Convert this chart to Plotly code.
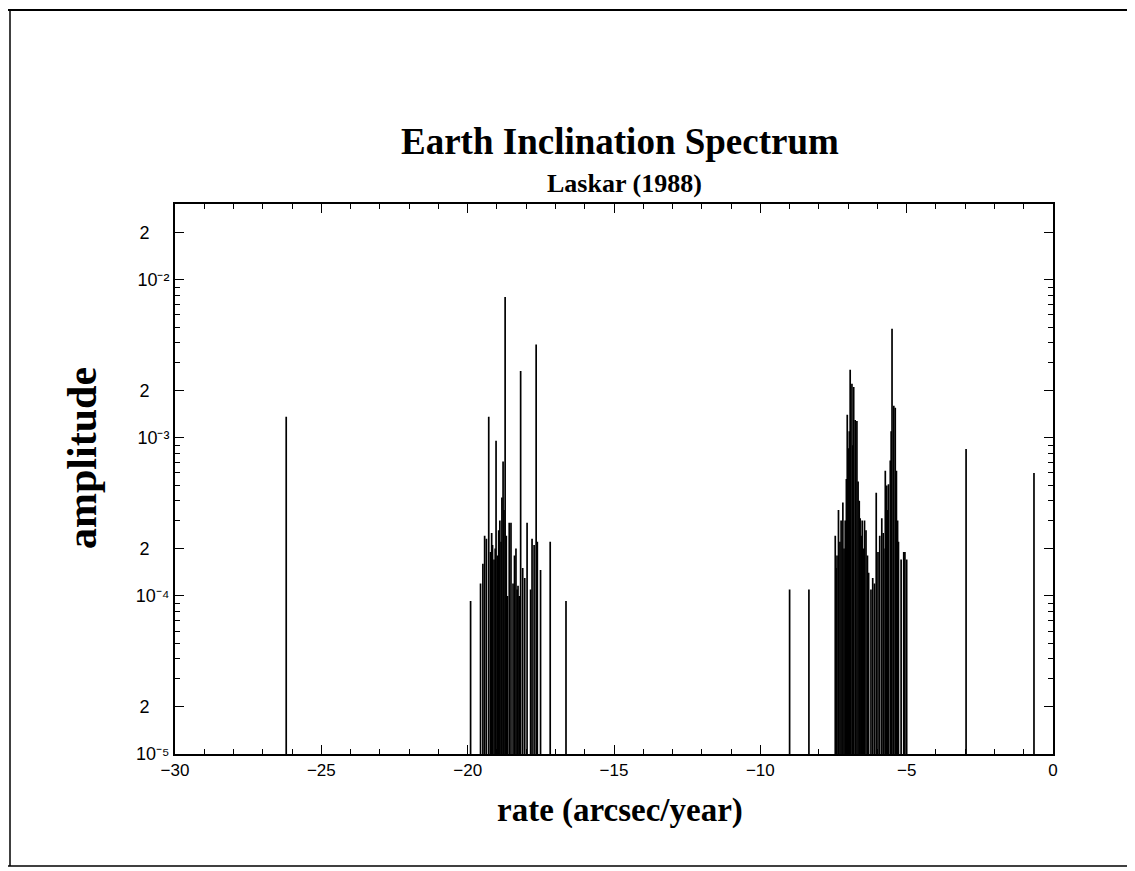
import plotly.graph_objects as go

# ---- data: spectral lines (rate in arcsec/year, amplitude) ----
rates = [
    -26.20,
    -19.90, -19.56, -19.48, -19.42, -19.36, -19.28, -19.22, -19.18, -19.15, -19.10,
    -19.06, -19.03, -18.98, -18.94, -18.90, -18.86, -18.83, -18.79, -18.76, -18.72,
    -18.68, -18.64, -18.58, -18.52, -18.45, -18.40, -18.35, -18.31, -18.28, -18.24,
    -18.19, -18.12, -18.05, -17.97, -17.85, -17.80, -17.73, -17.66, -17.62, -17.51,
    -17.18, -16.64,
    -9.00, -8.34,
    -7.44, -7.41, -7.38, -7.33, -7.28, -7.24, -7.18, -7.14, -7.10, -7.06, -7.03,
    -6.99, -6.96, -6.93, -6.87, -6.84, -6.81, -6.76, -6.70, -6.66, -6.62, -6.59,
    -6.55, -6.52, -6.48, -6.44, -6.39, -6.34, -6.30, -6.22, -6.16, -6.10, -6.04,
    -5.98, -5.92, -5.85, -5.80, -5.78, -5.73, -5.68, -5.65, -5.62, -5.56, -5.53,
    -5.50, -5.44, -5.39, -5.35, -5.31, -5.28, -5.19, -5.10, -5.06, -5.00,
    -2.97, -0.65,
]
amplitudes = [
    1.36e-3,
    9.3e-5, 1.2e-4, 1.6e-4, 2.4e-4, 2.3e-4, 1.36e-3, 1.9e-4, 2.5e-4, 2.1e-4, 1.7e-4,
    2.0e-4, 9.6e-4, 1.8e-4, 2.6e-4, 3.0e-4, 2.2e-4, 4.2e-4, 7.1e-4, 3.5e-4, 7.8e-3,
    2.4e-4, 1.0e-4, 2.9e-4, 2.9e-4, 1.2e-4, 1.8e-4, 2.0e-4, 1.1e-4, 1.16e-4, 1.0e-4,
    2.65e-3, 1.5e-4, 1.3e-4, 2.9e-4, 1.1e-4, 2.3e-4, 2.1e-4, 3.9e-3, 2.2e-4, 1.46e-4,
    2.2e-4, 9.3e-5,
    1.1e-4, 1.1e-4,
    2.4e-4, 1.5e-4, 1.8e-4, 3.5e-4, 2.2e-4, 3.0e-4, 3.9e-4, 2.0e-4, 3.0e-4, 5.5e-4, 1.4e-3,
    8.6e-4, 1.1e-3, 2.7e-3, 2.2e-3, 9.0e-4, 2.1e-3, 1.3e-3, 1.28e-3, 5.3e-4, 4.0e-4, 3.1e-4,
    2.4e-4, 3.0e-4, 2.0e-4, 3.0e-4, 2.6e-4, 1.8e-4, 1.4e-4, 1.1e-4, 1.3e-4, 1.2e-4, 4.5e-4,
    1.9e-4, 2.4e-4, 3.1e-4, 2.5e-4, 2.0e-4, 6.2e-4, 5.0e-4, 3.5e-4, 5.1e-4, 7.2e-4, 1.1e-3,
    4.9e-3, 1.6e-3, 1.55e-3, 6.2e-4, 3.0e-4, 2.2e-4, 1.7e-4, 1.9e-4, 1.9e-4, 1.7e-4,
    8.5e-4, 6.0e-4,
]

x_tick_vals = [-30, -25, -20, -15, -10, -5, 0]
x_tick_text = ["\u221230", "\u221225", "\u221220", "\u221215", "\u221210", "\u22125", "0"]
NB = "\u00a0" * 4
y_tick_vals = [1e-5, 2e-5, 1e-4, 2e-4, 1e-3, 2e-3, 1e-2, 2e-2]
y_tick_text = ["10\u207b\u2075", "2" + NB, "10\u207b\u2074", "2" + NB,
               "10\u207b\u00b3", "2" + NB, "10\u207b\u00b2", "2" + NB]
y_minor_vals = [m * 10.0 ** e for e in (-5, -4, -3, -2) for m in (3, 4, 5, 6, 7, 8, 9)]

BASE = 1e-6  # lines start below the axis floor

xs, ys = [], []
for r, a in zip(rates, amplitudes):
    xs += [r, r, None]
    ys += [BASE, a, None]

W, H = 1135, 871
L, R, T, B = 167, 1045, 196, 746

fig = go.Figure()
fig.add_trace(go.Scatter(x=xs, y=ys, mode="lines",
                         line=dict(color="black", width=1.7),
                         hoverinfo="skip", showlegend=False))

def px(x, y):
    return (x - L) / (R - L), (B - y) / (B - T)

shapes = []
# scanned page border
for (x0, y0, x1, y1, w) in [(0, 2, 1135, 2, 2), (2, 2, 2, 858, 1.5),
                            (0, 858, 1129, 858, 1.5), (1129, 30, 1129, 858, 1.2)]:
    a0, b0 = px(x0, y0)
    a1, b1 = px(x1, y1)
    shapes.append(dict(type="line", xref="paper", yref="paper",
                       x0=a0, y0=b0, x1=a1, y1=b1,
                       line=dict(color="black", width=w)))

def ann(text, x, y, size, **kw):
    a, b = px(x, y)
    d = dict(text=text, x=a, y=b, xref="paper", yref="paper", showarrow=False,
             font=dict(family="Liberation Serif", size=size, color="black"),
             xanchor="center", yanchor="middle")
    d.update(kw)
    return d

annotations = [
    ann("<b>Earth Inclination Spectrum</b>", 612, 133, 37),
    ann("<b>Laskar (1988)</b>", 616, 175, 26),
    ann("<b>rate (arcsec/year)</b>", 612, 802, 33),
    ann("<b>amplitude</b>", 74, 450, 42, textangle=-90),
]

fig.update_layout(
    width=W, height=H,
    margin=dict(l=L, r=W - R, t=T, b=H - B),
    paper_bgcolor="white", plot_bgcolor="white",
    shapes=shapes, annotations=annotations,
    xaxis=dict(range=[-30, 0], tickmode="array", tickvals=x_tick_vals, ticktext=x_tick_text,
               ticks="inside", ticklen=9, tickwidth=1.2, tickcolor="black",
               minor=dict(ticks="inside", dtick=1, ticklen=5, tickwidth=1, tickcolor="black"),
               showline=True, linecolor="black", linewidth=2, mirror="allticks",
               showgrid=False, zeroline=False,
               tickfont=dict(family="Liberation Sans", size=17, color="black")),
    yaxis=dict(type="log", range=[-5, -1.52], tickmode="array",
               tickvals=y_tick_vals, ticktext=y_tick_text,
               ticks="inside", ticklen=9, tickwidth=1.2, tickcolor="black",
               minor=dict(ticks="inside", tickmode="array", tickvals=y_minor_vals,
                          ticklen=5, tickwidth=1, tickcolor="black"),
               showline=True, linecolor="black", linewidth=2, mirror="allticks",
               showgrid=False, zeroline=False,
               tickfont=dict(family="Liberation Sans", size=18, color="black")),
)

fig.write_html("out.html")
